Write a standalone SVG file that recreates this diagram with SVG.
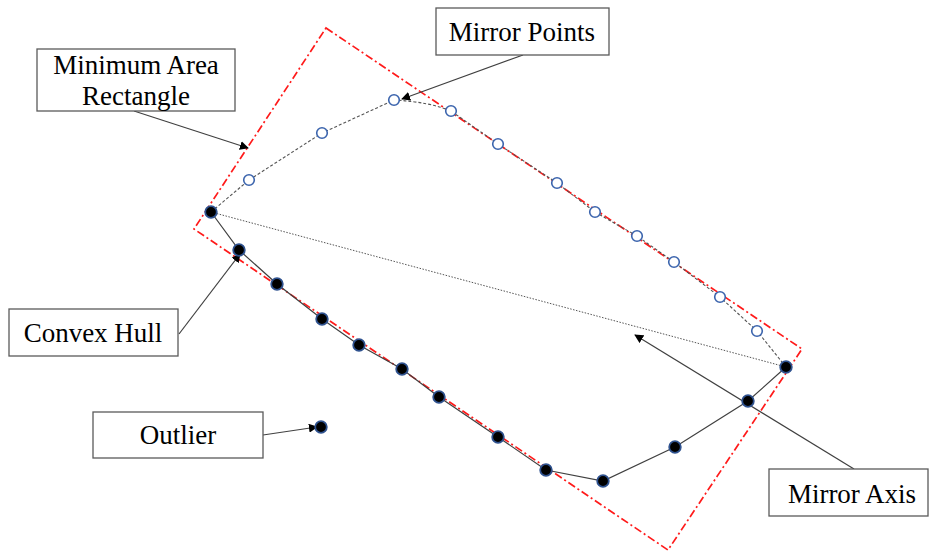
<svg xmlns="http://www.w3.org/2000/svg" width="930" height="552" viewBox="0 0 930 552">
<style>
.box{fill:#fff;stroke:#5a5a5a;stroke-width:1.3}
.lbl{font-family:"Liberation Serif","Times New Roman",serif;font-size:27px;fill:#000;text-anchor:middle}
.lead{fill:none;stroke:#404040;stroke-width:1.2}
.hull{fill:none;stroke:#404040;stroke-width:1.2}
.mir{fill:none;stroke:#555;stroke-width:1.1;stroke-dasharray:3,2}
.axis{fill:none;stroke:#555;stroke-width:1;stroke-dasharray:1.5,1.5}
.rect{fill:none;stroke:#ff1a1a;stroke-width:1.7;stroke-dasharray:8,3,2,3}
.pt{fill:#000;stroke:#2f528f;stroke-width:1.8}
.mp{fill:#fff;stroke:#3b64ad;stroke-width:1.6}
</style>
<defs>
<marker id="ah" viewBox="0 0 10 10" refX="9" refY="5" markerWidth="9" markerHeight="9" markerUnits="userSpaceOnUse" orient="auto">
<path d="M0,0 L10,5 L0,10 z" fill="#000"/>
</marker>
</defs>
<g id="rectangle">
<polygon class="rect" points="326,28 802,349 668,550 194,229"/>
</g>
<g id="connectors">
<polyline class="hull" points="211,212 239,250 277,284 322,319 359,345 402,369 439,397 498,437 546,470 603,481 675,447 748,401 786,367"/>
<path class="mir" d="M211,212 L249,180 L322,133 L394,100 Q430,102 451,111 L498,144 L557,183 L595,212 L637,236 L674,262 L720,297 L757,331 L786,367"/>
<line class="axis" x1="211" y1="212" x2="786" y2="367"/>
<line class="lead" x1="134" y1="111" x2="248" y2="148" marker-end="url(#ah)"/>
<line class="lead" x1="523" y1="55" x2="402" y2="99" marker-end="url(#ah)"/>
<line class="lead" x1="179" y1="334" x2="240" y2="254" marker-end="url(#ah)"/>
<line class="lead" x1="263" y1="435" x2="317" y2="427" marker-end="url(#ah)"/>
<line class="lead" x1="854" y1="469" x2="635" y2="335" marker-end="url(#ah)"/>
</g>
<g id="hull-points">
<circle class="pt" cx="211" cy="212" r="5.8"/>
<circle class="pt" cx="239" cy="250" r="5.8"/>
<circle class="pt" cx="277" cy="284" r="5.8"/>
<circle class="pt" cx="322" cy="319" r="5.8"/>
<circle class="pt" cx="359" cy="345" r="5.8"/>
<circle class="pt" cx="402" cy="369" r="5.8"/>
<circle class="pt" cx="439" cy="397" r="5.8"/>
<circle class="pt" cx="498" cy="437" r="5.8"/>
<circle class="pt" cx="546" cy="470" r="5.8"/>
<circle class="pt" cx="603" cy="481" r="5.8"/>
<circle class="pt" cx="675" cy="447" r="5.8"/>
<circle class="pt" cx="748" cy="401" r="5.8"/>
<circle class="pt" cx="786" cy="367" r="5.8"/>
</g>
<g id="outlier-point">
<circle class="pt" cx="321" cy="427" r="5.8"/>
</g>
<g id="mirror-points">
<circle class="mp" cx="249" cy="180" r="5.3"/>
<circle class="mp" cx="322" cy="133" r="5.3"/>
<circle class="mp" cx="394" cy="100" r="5.3"/>
<circle class="mp" cx="451" cy="111" r="5.3"/>
<circle class="mp" cx="498" cy="144" r="5.3"/>
<circle class="mp" cx="557" cy="183" r="5.3"/>
<circle class="mp" cx="595" cy="212" r="5.3"/>
<circle class="mp" cx="637" cy="236" r="5.3"/>
<circle class="mp" cx="674" cy="262" r="5.3"/>
<circle class="mp" cx="720" cy="297" r="5.3"/>
<circle class="mp" cx="757" cy="331" r="5.3"/>
</g>
<g id="label-min-area-rect">
<rect class="box" x="37" y="49" width="198" height="62"/>
<text class="lbl" x="136" y="74">Minimum Area</text>
<text class="lbl" x="136" y="105">Rectangle</text>
</g>
<g id="label-mirror-points">
<rect class="box" x="436" y="8" width="173" height="47"/>
<text class="lbl" x="522" y="41">Mirror Points</text>
</g>
<g id="label-convex-hull">
<rect class="box" x="9" y="309" width="169" height="47"/>
<text class="lbl" x="93" y="342">Convex Hull</text>
</g>
<g id="label-outlier">
<rect class="box" x="93" y="412" width="170" height="46"/>
<text class="lbl" x="178" y="444">Outlier</text>
</g>
<g id="label-mirror-axis">
<rect class="box" x="769" y="469" width="159" height="47"/>
<text class="lbl" x="852" y="503">Mirror Axis</text>
</g>
</svg>
